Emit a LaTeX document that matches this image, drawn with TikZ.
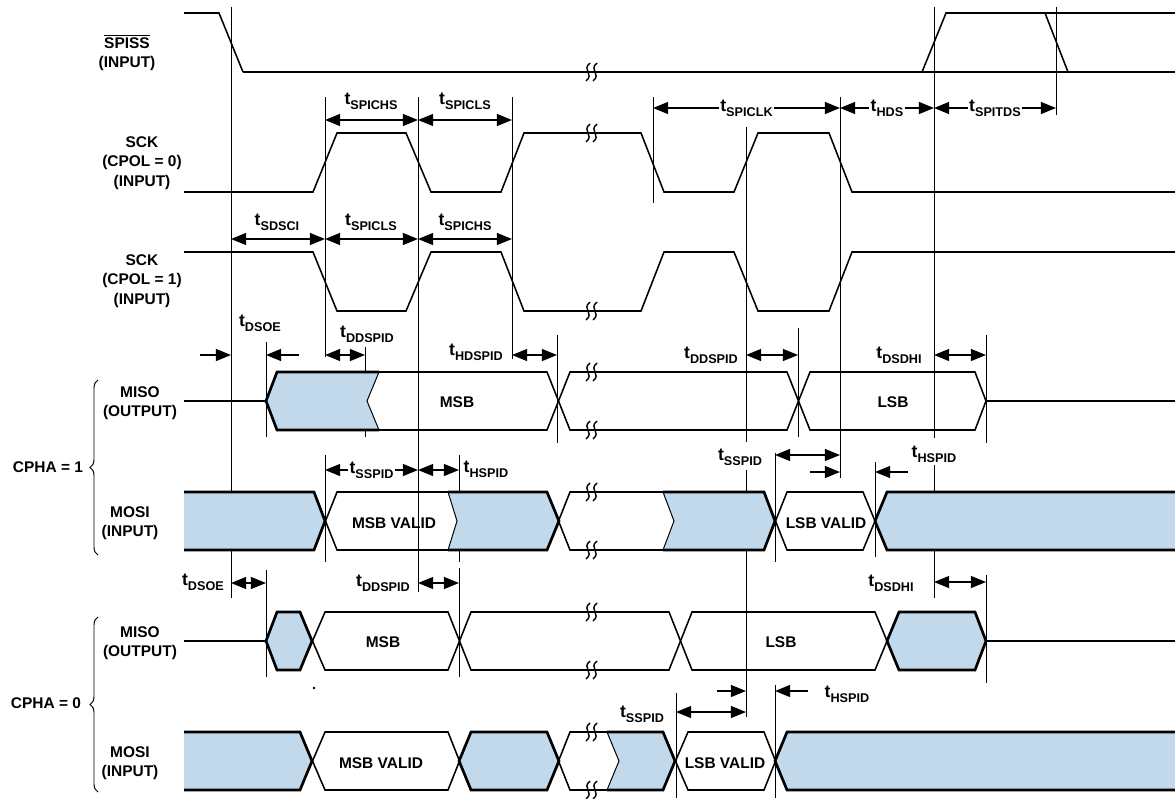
\documentclass[tikz,border=0pt]{standalone}
\usepackage{fontspec}
\setmainfont{Liberation Sans}
\usetikzlibrary{arrows.meta,decorations.pathreplacing}
\definecolor{busblue}{RGB}{194,216,235}
\newcommand{\tlab}[1]{t\raisebox{-0.55ex}{\fontsize{9}{9}\selectfont #1}}
\newcommand{\brk}[1]{%
  \foreach \bx in {588,595}
    \draw[line width=1pt] (\bx+2,#1-9) .. controls (\bx-7,#1-2) and (\bx+7,#1+2) .. (\bx-2,#1+9);}
\tikzset{
  sig/.style={line width=1.1pt,line join=miter},
  vref/.style={line width=0.7pt},
  edge/.style={line width=1.9pt,line join=miter},
  tspan/.style={line width=1.1pt,{Triangle[length=3.8mm,width=3mm]}-{Triangle[length=3.8mm,width=3mm]}},
  tpoint/.style={line width=1.1pt,-{Triangle[length=3.8mm,width=3mm]}},
  lab/.style={font=\bfseries\fontsize{11}{13.9}\selectfont,align=center,inner sep=0pt},
  tim/.style={font=\bfseries\fontsize{12.5}{13}\selectfont,inner sep=1pt},
  bus/.style={font=\bfseries\fontsize{11}{12}\selectfont,inner sep=0pt},
  grp/.style={decorate,decoration={brace,amplitude=2mm},line width=0.7pt}
}
\begin{document}
\begin{tikzpicture}[x=0.025cm,y=-0.025cm]
  \useasboundingbox (0,0) rectangle (1175,798);
  %% Signal names
  \node[lab] (lspiss) at (127,53) {$\overline{\hbox{SPISS}}$\\(INPUT)};
  \node[lab] (lscka) at (142,163) {SCK\\(CPOL = 0)\\(INPUT)};
  \node[lab] (lsckb) at (142,281) {SCK\\(CPOL = 1)\\(INPUT)};
  \node[lab] (lmisoa) at (140,403) {MISO\\(OUTPUT)};
  \node[lab] (lmosia) at (130,523) {MOSI\\(INPUT)};
  \node[lab] (lmisob) at (140,643) {MISO\\(OUTPUT)};
  \node[lab] (lmosib) at (130,763) {MOSI\\(INPUT)};
  \node[lab] (lcpha1) at (48,467) {CPHA = 1};
  \node[lab] (lcpha0) at (46,703) {CPHA = 0};
  \draw[grp] (98,555) -- (98,380);
  \draw[grp] (98,792) -- (98,617);

  %% Reference lines
  \draw[vref] (231,7) -- (231,598);
  \draw[vref] (325,97) -- (325,357);
  \draw[vref] (325,455) -- (325,562);
  \draw[vref] (418,97) -- (418,592);
  \draw[vref] (512,97) -- (512,359);
  \draw[vref] (266,342) -- (266,437);
  \draw[vref] (266,570) -- (266,677);
  \draw[vref] (365,347) -- (365,437);
  \draw[vref] (557,335) -- (557,443);
  \draw[vref] (459,455) -- (459,562);
  \draw[vref] (459,568) -- (459,677);
  \draw[vref] (653,97) -- (653,203);
  \draw[vref] (746,127) -- (746,442);
  \draw[vref] (746,470) -- (746,717);
  \draw[vref] (840,97) -- (840,478);
  \draw[vref] (934,7) -- (934,438);
  \draw[vref] (934,465) -- (934,598);
  \draw[vref] (1056,7) -- (1056,115);
  \draw[vref] (798,328) -- (798,437);
  \draw[vref] (986,335) -- (986,443);
  \draw[vref] (986,575) -- (986,683);
  \draw[vref] (775,453) -- (775,562);
  \draw[vref] (775,685) -- (775,798);
  \draw[vref] (875,462) -- (875,557);
  \draw[vref] (676,693) -- (676,798);

  %% SPISS
  \draw[sig] (184,13) -- (219,13) -- (243,72);
  \draw[sig,line width=1.6pt] (243,72) -- (922,72);
  \draw[sig] (922,72) -- (946,13) -- (1175,13);
  \draw[sig] (922,72) -- (1175,72);
  \draw[sig] (1045,13) -- (1068,72);
  \brk{72}

  %% SCK, CPOL = 0 and CPOL = 1
  \draw[sig] (184,192) -- (313,192) -- (337,133) -- (406,133) -- (431,192) -- (501,192) -- (524,133)
    -- (641,133) -- (664,192) -- (734,192) -- (758,133) -- (829,133) -- (852,192) -- (1175,192);
  \draw[sig] (184,252) -- (313,252) -- (337,311) -- (406,311) -- (431,252) -- (501,252) -- (524,311)
    -- (641,311) -- (664,252) -- (734,252) -- (758,311) -- (829,311) -- (852,252) -- (1175,252);
  \brk{133}
  \brk{311}

  %% MISO, CPHA = 1
  \fill[busblue] (266,401) -- (277,372) -- (379,372) -- (367,401) -- (379,430) -- (277,430) -- cycle;
  \draw[sig] (184,401) -- (266,401);
  \draw[vref] (379,372) -- (367,401) -- (379,430);
  \draw[sig] (379,372) -- (547,372) -- (570,430) -- (787,430) -- (810,372) -- (975,372) -- (986,401) -- (1175,401);
  \draw[sig] (379,430) -- (547,430) -- (570,372) -- (787,372) -- (810,430) -- (975,430) -- (986,401);
  \draw[edge] (379,372) -- (277,372) -- (266,401) -- (277,430) -- (379,430);
  \brk{372}
  \brk{430}
  \node[bus] (msba) at (457,402) {MSB};
  \node[bus] (lsba) at (893,402) {LSB};

  %% MOSI, CPHA = 1
  \fill[busblue] (184,492) -- (314,492) -- (325,521) -- (314,550) -- (184,550) -- cycle;
  \fill[busblue] (448,492) -- (547,492) -- (559,521) -- (547,550) -- (448,550) -- (457,521) -- cycle;
  \fill[busblue] (663,492) -- (764,492) -- (775,521) -- (764,550) -- (663,550) -- (674,521) -- cycle;
  \fill[busblue] (875,521) -- (887,492) -- (1175,492) -- (1175,550) -- (887,550) -- cycle;
  \draw[sig] (184,492) -- (314,492) -- (337,550) -- (547,550) -- (570,492) -- (764,492) -- (787,550) -- (863,550) -- (887,492) -- (1175,492);
  \draw[sig] (184,550) -- (314,550) -- (337,492) -- (547,492) -- (570,550) -- (764,550) -- (787,492) -- (863,492) -- (887,550) -- (1175,550);
  \draw[vref] (448,492) -- (457,521) -- (448,550);
  \draw[vref] (663,492) -- (674,521) -- (663,550);
  \draw[edge] (184,492) -- (314,492) -- (325,521) -- (314,550) -- (184,550);
  \draw[edge] (448,492) -- (547,492) -- (559,521) -- (547,550) -- (448,550);
  \draw[edge] (663,492) -- (764,492) -- (775,521) -- (764,550) -- (663,550);
  \draw[edge] (1175,492) -- (887,492) -- (875,521) -- (887,550) -- (1175,550);
  \brk{492}
  \brk{550}
  \node[bus] (msbva) at (394,523) {MSB VALID};
  \node[bus] (lsbva) at (826,523) {LSB VALID};

  %% MISO, CPHA = 0
  \fill[busblue] (266,641) -- (277,612) -- (300,612) -- (312,641) -- (300,670) -- (277,670) -- cycle;
  \fill[busblue] (887,641) -- (899,612) -- (975,612) -- (986,641) -- (975,670) -- (899,670) -- cycle;
  \draw[sig] (184,641) -- (266,641);
  \draw[sig] (986,641) -- (1175,641);
  \draw[sig] (300,612) -- (325,670) -- (448,670) -- (471,612) -- (669,612) -- (692,670) -- (875,670) -- (899,612);
  \draw[sig] (300,670) -- (325,612) -- (448,612) -- (471,670) -- (669,670) -- (692,612) -- (875,612) -- (899,670);
  \draw[edge] (266,641) -- (277,612) -- (300,612) -- (312,641) -- (300,670) -- (277,670) -- cycle;
  \draw[edge] (887,641) -- (899,612) -- (975,612) -- (986,641) -- (975,670) -- (899,670) -- cycle;
  \brk{612}
  \brk{670}
  \node[bus] (msbb) at (383,642) {MSB};
  \node[bus] (lsbb) at (781,642) {LSB};
  \fill (314,688) circle (1.3);

  %% MOSI, CPHA = 0
  \fill[busblue] (184,732) -- (300,732) -- (312,761) -- (300,790) -- (184,790) -- cycle;
  \fill[busblue] (459,761) -- (471,732) -- (547,732) -- (559,761) -- (547,790) -- (471,790) -- cycle;
  \fill[busblue] (607,732) -- (663,732) -- (675,761) -- (663,790) -- (607,790) -- (619,761) -- cycle;
  \fill[busblue] (775,761) -- (787,732) -- (1175,732) -- (1175,790) -- (787,790) -- cycle;
  \draw[sig] (184,732) -- (300,732) -- (325,790) -- (448,790) -- (471,732) -- (547,732) -- (570,790) -- (663,790) -- (688,732) -- (764,732) -- (787,790) -- (1175,790);
  \draw[sig] (184,790) -- (300,790) -- (325,732) -- (448,732) -- (471,790) -- (547,790) -- (570,732) -- (663,732) -- (688,790) -- (764,790) -- (787,732) -- (1175,732);
  \draw[vref] (607,732) -- (619,761) -- (607,790);
  \draw[edge] (184,732) -- (300,732) -- (312,761) -- (300,790) -- (184,790);
  \draw[edge] (459,761) -- (471,732) -- (547,732) -- (559,761) -- (547,790) -- (471,790) -- cycle;
  \draw[edge] (607,732) -- (663,732) -- (675,761) -- (663,790) -- (607,790);
  \draw[edge] (1175,732) -- (787,732) -- (775,761) -- (787,790) -- (1175,790);
  \brk{732}
  \brk{790}
  \node[bus] (msbvb) at (381,763) {MSB VALID};
  \node[bus] (lsbvb) at (725,763) {LSB VALID};

  %% Timing parameters
  \draw[tspan] (325,120) -- (418,120);
  \node[tim] (chsa) at (371,101) {\tlab{SPICHS}};
  \draw[tspan] (418,120) -- (512,120);
  \node[tim] (clsa) at (465,101) {\tlab{SPICLS}};
  \draw[tspan] (653,108) -- (840,108) node[tim,fill=white,midway] (clk) {\tlab{SPICLK}};
  \draw[tspan] (840,108) -- (934,108) node[tim,fill=white,midway] (hds) {\tlab{HDS}};
  \draw[tspan] (934,108) -- (1056,108) node[tim,fill=white,midway] (itds) {\tlab{SPITDS}};

  \draw[tspan] (231,239) -- (325,239);
  \node[tim] (sdsci) at (277,222) {\tlab{SDSCI}};
  \draw[tspan] (325,239) -- (418,239);
  \node[tim] (clsb) at (371,222) {\tlab{SPICLS}};
  \draw[tspan] (418,239) -- (512,239);
  \node[tim] (chsb) at (465,222) {\tlab{SPICHS}};

  \node[tim] (dsoea) at (260,323) {\tlab{DSOE}};
  \draw[tpoint] (200,355) -- (231,355);
  \draw[tpoint] (299,355) -- (266,355);
  \draw[tspan] (325,355) -- (365,355);
  \node[tim] (ddspida) at (367,334) {\tlab{DDSPID}};
  \draw[tspan] (512,355) -- (557,355);
  \node[tim] (hdspid) at (476,352) {\tlab{HDSPID}};
  \draw[tspan] (746,355) -- (798,355);
  \node[tim] (ddspidb) at (711,355) {\tlab{DDSPID}};
  \draw[tspan] (934,355) -- (986,355);
  \node[tim] (dsdhia) at (899,355) {\tlab{DSDHI}};

  \draw[tspan] (325,470) -- (418,470) node[tim,fill=white,midway] (sspida) {\tlab{SSPID}};
  \draw[tspan] (418,470) -- (459,470);
  \node[tim] (hspida) at (486,469) {\tlab{HSPID}};
  \node[tim] (sspidb) at (740,457) {\tlab{SSPID}};
  \draw[tspan] (775,455) -- (840,455);
  \draw[tpoint] (810,472) -- (840,472);
  \draw[tpoint] (908,472) -- (875,472);
  \node[tim] (hspidb) at (934,454) {\tlab{HSPID}};

  \node[tim] (dsoeb) at (203,582) {\tlab{DSOE}};
  \draw[tspan] (231,583) -- (266,583);
  \node[tim] (ddspidc) at (383,583) {\tlab{DDSPID}};
  \draw[tspan] (418,583) -- (459,583);
  \node[tim] (dsdhib) at (891,583) {\tlab{DSDHI}};
  \draw[tspan] (934,582) -- (986,582);

  \draw[tpoint] (717,691) -- (746,691);
  \draw[tpoint] (808,691) -- (775,691);
  \node[tim] (hspidc) at (847,694) {\tlab{HSPID}};
  \node[tim] (sspidc) at (642,714) {\tlab{SSPID}};
  \draw[tspan] (676,712) -- (746,712);
\end{tikzpicture}
\end{document}
